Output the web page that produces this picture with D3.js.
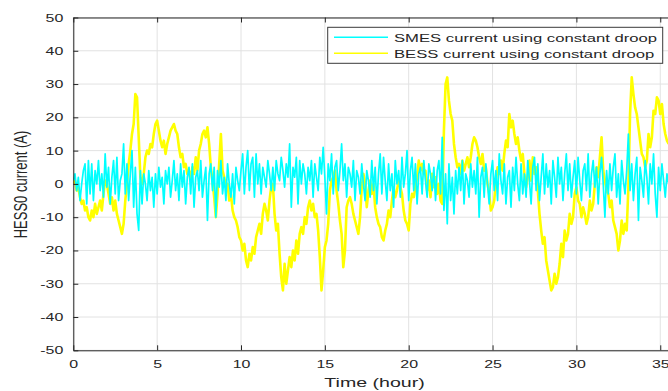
<!DOCTYPE html>
<html>
<head>
<meta charset="utf-8">
<script src="https://cdn.jsdelivr.net/npm/d3@7"></script>
<style>
  html, body { margin: 0; padding: 0; background: #fff; }
  svg { display: block; }
  text { font-family: "Liberation Sans", Arial, Helvetica, sans-serif; fill: #262626; }
</style>
</head>
<body>
<svg id="chart" width="668" height="391"></svg>
<script>
// Sampling interval of both current traces (hours)
const sampleStep = 0.1;

// SMES current using constant droop (A), one row per hour
const smesCurrent = [
   1,  3, -2,  2, -5,  0,  4,  6, -6,  7,
  -3,  6, -5,  4,  0,  7, -2,  3, -4,  9,
  -1,  5, -6,  2,  7, -3,  8, -5,  1,  3,
  12, -3,  6, -5,  3, 10, -7,  5, -9,-14,
   4, -6,  3,  0, -5,  4, -2,  2, -7,  3,
  -3,  5, -1,  2, -6,  4,  0,  5, -4,  1,
   7, -2,  3, -5,  6, -1,  4, -6,  2,  5,
  -3,  6, -7,  2,  4, -2,  7, -4,  1,  5,
 -11,  3,  6, -2,  5,-10,  4, -1,  7, -3,
   2, -5,  6,  0, -4,  3, -6,  5,  1, -2,
   4,  9, -3,  5, 10, -2,  6,  8, -4,  9,
   0,  6, -3,  5,  2, -1,  7,  3, -2,  5,
  -2,  7,  3,  1,  8,  4, -1,  6,  2, 12,
  -7,  5,  2,  8, -6,  7,  0,  6,  3, -3,
   5,  1,  7, -4,  6,  2, -2,  8,  3, 11,
   2, -9,  6,  1,  9, -3,  5,  7, -2,  4,
  12,  1,  6, -4,  5,  3, -1,  7, -5,  4,
   2, -3,  6,  0, -5,  4,  1, -4,  7, -2,
   5, -6,  3,  9, -3,  8,  1, -5,  6, -2,
   3, -7,  7,  0,  4, -4,  8, -1,  3, 10,
  -5,  4,  8, -2,  6, -6,  3,  5, -3,  7,
   1, -4,  6,  3, -2,  5, -5,  4,  7, -3,
  14, -8,  3,-12,  6, -5,  2, -9,  4, -3,
   5, -2,  7, -6,  3,  1, -4,  6, -1,  4,
  -3,  8,-10,  2,  5, -4,  6,  0, -6,  3,
   7, -2,  4, -5,  9,  1, -3,  6, -6,  2,
   4, -7,  5, -2,  8,  0, -5,  6, -3,  3,
  -4,  7,  1, -6,  5,  8, -2,  6, -5,  2,
   9, -3,  6, -1,  4, -6,  7,  2, -4,  8,
   0,  5, -5,  3,  9, -2,  6, -4,  2,  7,
  -3,  8,  1, -5,  4,  6, -2,  9, -4,  3,
   7, -1,  5, -6,  3,  8,  0,-10,  4, -3,
   6, -2,  5,  9, -4,  3, -6,  7,  1, -3,
   4, 15, -2,  6, -5,  3,  8,-11,  5,  1,
  -4,  7,  2, -6,  6,  0,  9, -3,-10,  5,
  -2,  6,  1, -4,  3,  0
];

// BESS current using constant droop (A), one row per hour
const bessCurrent = [
   0,  1, -2, -1, -4, -6, -5, -8, -7,-10,
 -11, -8,-10, -6, -9, -7, -5, -8, -3,  1,
   0, -3, -6, -4, -8, -5, -9,-11,-13,-15,
 -12, -5,  0,  6, 10, 15, 18, 27, 26, 14,
   2,  0,  3,  8, 10,  9, 12, 11, 15, 18,
  19, 16, 13, 11, 13,  9, 12, 14, 16, 17,
  18, 16, 15, 11,  8,  9,  5,  6,  3,  4,
   1,  5,  3,  8,  4, 10, 12, 15, 16, 14,
  17, 12,  5,  1, -4,-10, -3,  6, 15,  4,
   2, -1,  0, -5, -3, -8,-10,-11,-13,-16,
 -17,-20,-18,-23,-25,-21,-23,-19,-21,-16,
 -14,-12,-15, -9, -6, -8,-11, -5, -1,  0,
  -9,-14,-12,-21,-28,-32,-24,-30,-26,-22,
 -25,-20,-23,-17,-21,-15,-13,-15,-10,-12,
  -7, -5, -8, -6,-10, -9,-14,-22,-32,-26,
 -19,-17,-12, -2,  1,  2,  4, -2, -6,-11,
 -15,-25,-20, -7, -5, -4, -6, -9,-11,-13,
 -15,-10, -1,  3,  0, -7, -2,  1, -3,  0,
  -7,-10,-12,-13,-16,-17,-14,-12, -8,-10,
  -5, -1, -4, -2,  1, -1, -3, -8,-11,-12,
 -14, -6, -3, -4, -1,  2,  7,  4,  6,  3,
   4, -2,  1, -4,  3, -1,  2, -3,  0, -5,
  -6, 16, 30, 32, 25, 21, 19, 12,  8,  5,
   6,  3,  7,  4,  6,  8,  5,  8, 12, 14,
  13, 11,  8,  6,  9,  4,  5,  0, -3, -8,
  -7, -5,  1,  5,  3,  7,  4,  9, 13, 11,
  21, 17, 19, 15, 12, 14, 10,  7,  9,  3,
  -1,  2,  7,  1,  8,  3,  5, -2, -9,-14,
 -18,-16,-23,-26,-29,-32,-31,-27,-30,-28,
 -24,-18,-22,-14,-17,-15, -9,-12,-10, -3,
  -1, -5, -6,-10, -7, -9,-12,-10, -5, -8,
  -6,  0,  5,  2,  8, 14,  4,  1, -2, -3,
  -7, -5,-11,-13,-15,-20,-17,-11,-15,-12,
 -14, -1, 21, 32, 27, 23, 21, 17, 13,  9,
   8,  5,  7, 15, 11, 14, 22, 21, 26, 25,
  21, 24, 18, 15, 13, 12
];

// Axis ticks and labels
const xTicks = [0, 5, 10, 15, 20, 25, 30, 35];
const yTicks = [-50, -40, -30, -20, -10, 0, 10, 20, 30, 40, 50];
const xDomain = [0, 36];
const yDomain = [-50, 50];
const seriesNames = ["SMES current using constant droop", "BESS current using constant droop"];
const seriesColors = ["#00ffff", "#ffff00"];
const xLabel = "Time (hour)";
const yLabel = "HESS0 current (A)";

// Text in this figure is rendered wide, so every label gets a horizontal stretch
const SX = 1.45;

const svg = d3.select("#chart");
const plot = { left: 73.3, top: 17.5, bottom: 350.3 };
const pxPerHour = 16.77;

const x = d3.scaleLinear().domain(xDomain).range([plot.left, plot.left + (xDomain[1] - xDomain[0]) * pxPerHour]);
const y = d3.scaleLinear().domain(yDomain).range([plot.bottom, plot.top]);

svg.append("defs").append("clipPath").attr("id", "plotClip")
  .append("rect")
  .attr("x", x(xDomain[0])).attr("y", y(yDomain[1]))
  .attr("width", x(xDomain[1]) - x(xDomain[0]))
  .attr("height", y(yDomain[0]) - y(yDomain[1]));

// Grid
const grid = svg.append("g").attr("class", "grid");
grid.selectAll("line.gx").data(xTicks).join("line")
  .attr("x1", d => x(d)).attr("x2", d => x(d))
  .attr("y1", y(yDomain[0])).attr("y2", y(yDomain[1]))
  .attr("stroke", "#e2e2e2").attr("stroke-width", 1);
grid.selectAll("line.gy").data(yTicks).join("line")
  .attr("y1", d => y(d)).attr("y2", d => y(d))
  .attr("x1", x(xDomain[0])).attr("x2", x(xDomain[1]))
  .attr("stroke", "#e2e2e2").attr("stroke-width", 1);

// Traces
const line = d3.line()
  .x((d, i) => x(i * sampleStep))
  .y(d => y(d));

const traces = svg.append("g").attr("clip-path", "url(#plotClip)");
traces.append("path").datum(bessCurrent)
  .attr("d", line).attr("fill", "none")
  .attr("stroke", seriesColors[1]).attr("stroke-width", 2.6)
  .attr("stroke-linejoin", "round");
traces.append("path").datum(smesCurrent)
  .attr("d", line).attr("fill", "none")
  .attr("stroke", seriesColors[0]).attr("stroke-width", 1.7)
  .attr("stroke-linejoin", "round");

// Axes
const axisColor = "#262626";
const plainNumber = d => String(d);
function styleAxis(g) {
  g.selectAll("path.domain").attr("stroke", axisColor).attr("stroke-width", 1);
  g.selectAll(".tick line").attr("stroke", axisColor).attr("stroke-width", 1);
  g.selectAll("text").attr("font-size", 11).attr("fill", axisColor)
    .attr("font-family", "'Liberation Sans', Arial, sans-serif");
}

const gx = svg.append("g").attr("transform", `translate(0,${plot.bottom})`)
  .call(d3.axisBottom(x).tickValues(xTicks).tickFormat(plainNumber).tickSize(-5).tickSizeOuter(0).tickPadding(10));
styleAxis(gx);
gx.selectAll(".tick text").attr("transform", `scale(${SX},1)`);

const gxTop = svg.append("g").attr("transform", `translate(0,${plot.top})`)
  .call(d3.axisTop(x).tickValues(xTicks).tickFormat("").tickSize(-5).tickSizeOuter(0));
styleAxis(gxTop);

const gy = svg.append("g").attr("transform", `translate(${plot.left},0)`)
  .call(d3.axisLeft(y).tickValues(yTicks).tickFormat(plainNumber).tickSize(-5).tickSizeOuter(0).tickPadding(10));
styleAxis(gy);
gy.selectAll(".tick text").attr("x", -10 / SX).attr("transform", `scale(${SX},1)`);

// Axis titles
svg.append("text")
  .attr("transform", `translate(374.5,387) scale(${SX},1)`)
  .attr("text-anchor", "middle").attr("font-size", 13.5)
  .text(xLabel);
svg.append("text")
  .attr("transform", `translate(27,184.5) scale(${SX},1) rotate(-90)`)
  .attr("text-anchor", "middle").attr("font-size", 13)
  .text(yLabel);

// Legend
const legend = svg.append("g");
legend.append("rect")
  .attr("x", 327.7).attr("y", 27.3).attr("width", 335).attr("height", 36)
  .attr("fill", "#fff").attr("stroke", "#3a3a3a").attr("stroke-width", 1);
const legendRows = [37.3, 53.3];
seriesNames.forEach((name, i) => {
  legend.append("line")
    .attr("x1", 334).attr("x2", 388)
    .attr("y1", legendRows[i]).attr("y2", legendRows[i])
    .attr("stroke", seriesColors[i]).attr("stroke-width", 1.5);
  legend.append("text")
    .attr("transform", `translate(394,${legendRows[i] + 4.4}) scale(${SX},1)`)
    .attr("font-size", 11.5)
    .text(name);
});
</script>
</body>
</html>
